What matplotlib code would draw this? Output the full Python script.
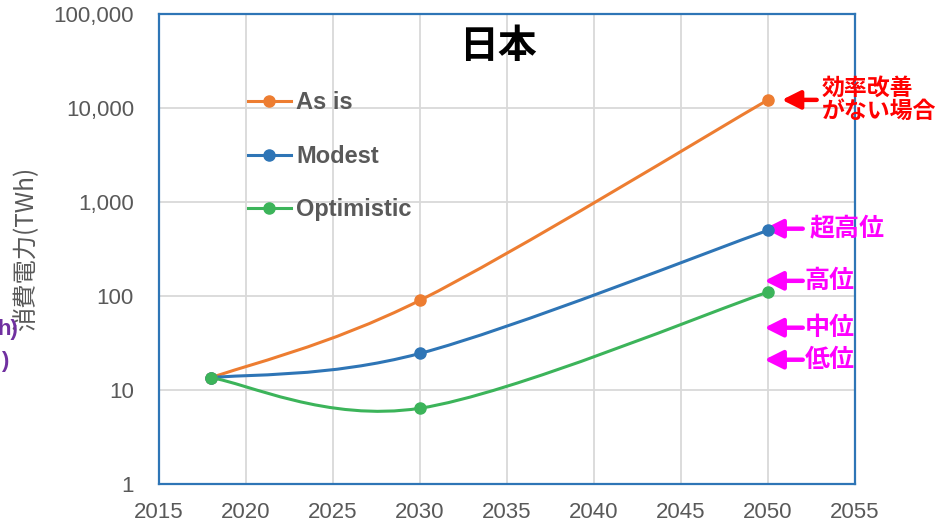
import numpy as np
import matplotlib.pyplot as plt
from matplotlib.path import Path
from matplotlib.patches import PathPatch
from matplotlib.lines import Line2D
from matplotlib.ticker import FuncFormatter, NullLocator

plt.rcParams['font.family'] = ['Liberation Sans', 'Noto Sans CJK JP', 'DejaVu Sans']
JP = ['Noto Sans CJK JP', 'DejaVu Sans']

# data
years = [2018, 2030, 2050]
as_is = [13.5, 90, 12200]
modest = [13.5, 24.5, 500]
optimistic = [13.5, 6.4, 110]

series_names = ["As is", "Modest", "Optimistic"]
series_colors = ["#ED7D31", "#2E75B6", "#3CB45A"]

# arrow labels on the right (label, value pointed at)
notes = ["超高位", "高位", "中位", "低位"]
note_vals = [520, 145, 46, 21]
red_note = "効率改善\nがない場合"
red_val = 12200


def smooth_path(xs, ys):
    # excel-like smoothed line: catmull-rom -> bezier in (x, log y)
    px = np.array(xs, float)
    py = np.log10(ys)
    n = len(px)
    verts = [(px[0], py[0])]
    codes = [Path.MOVETO]
    for i in range(n - 1):
        i0 = max(i - 1, 0)
        i3 = min(i + 2, n - 1)
        c1 = (px[i] + (px[i + 1] - px[i0]) / 6, py[i] + (py[i + 1] - py[i0]) / 6)
        c2 = (px[i + 1] - (px[i3] - px[i]) / 6, py[i + 1] - (py[i3] - py[i]) / 6)
        verts += [c1, c2, (px[i + 1], py[i + 1])]
        codes += [Path.CURVE4] * 3
    verts = [(x, 10 ** y) for x, y in verts]
    return Path(verts, codes)


fig = plt.figure(figsize=(9.39, 5.24), dpi=100)
ax = fig.add_axes([0.1693, 0.0763, 0.7412, 0.897])
ax.set_yscale('log')
ax.set_xlim(2015, 2055)
ax.set_ylim(1, 100000)
ax.set_xticks(range(2015, 2056, 5))
ax.set_yticks([1, 10, 100, 1000, 10000, 100000])
ax.yaxis.set_minor_locator(NullLocator())
ax.yaxis.set_major_formatter(FuncFormatter(lambda v, p: "{:,.0f}".format(v)))
ax.tick_params(length=0, labelsize=16, colors="#595959")
ax.tick_params(axis='y', pad=18)
ax.tick_params(axis='x', pad=13)
ax.grid(True, color="#D9D9D9", lw=1.3)
ax.set_axisbelow(True)
for s in ax.spines.values():
    s.set_color("#2E75B6")
    s.set_linewidth(1.6)

handles = []
for name, vals, col in zip(series_names, [as_is, modest, optimistic], series_colors):
    ax.add_patch(PathPatch(smooth_path(years, vals), fill=False, edgecolor=col, lw=2.2, zorder=3))
    ax.plot(years, vals, 'o', color=col, ms=8, zorder=4)
    handles.append(Line2D([], [], color=col, lw=2.2, marker='o', ms=8))

leg = ax.legend(handles, series_names, loc='upper left', bbox_to_anchor=(0.128, 0.836),
                frameon=False, borderaxespad=0, borderpad=0,
                handlelength=1.8, handletextpad=0.25, labelspacing=1.3,
                prop={'size': 17, 'weight': 'bold'})
for t in leg.get_texts():
    t.set_color("#595959")

ax.text(0.487, 0.93, "日本", transform=ax.transAxes, ha='center', va='center',
        fontsize=28, fontweight='bold', family=JP)

ax.set_ylabel("消費電力(TWh)", fontsize=17.5, color="#595959", family=JP)
ax.yaxis.set_label_coords(-0.172, 0.5)

arrow_style = '-|>,head_length=1.1,head_width=0.55'

# arrows and labels at the right
ax.annotate('', xy=(2050.8, red_val), xytext=(2052.8, red_val),
            arrowprops=dict(arrowstyle=arrow_style, lw=3.2, color='#FF0000',
                            shrinkA=0, shrinkB=0),
            annotation_clip=False)
ax.text(2053.1, red_val, red_note, color='#FF0000', fontsize=16.5, fontweight='bold',
        family=JP, va='center', ha='left', linespacing=1.0, clip_on=False)
for lab, v in zip(notes, note_vals):
    ax.annotate('', xy=(2049.8, v), xytext=(2052.0, v),
                arrowprops=dict(arrowstyle=arrow_style, lw=3.2, color='#FF00FF',
                                shrinkA=0, shrinkB=0),
                annotation_clip=False)
    xt = 2052.4 if lab == "超高位" else 2052.1
    ax.text(xt, v, lab, color='#FF00FF', fontsize=18, fontweight='bold', family=JP,
            va='center', ha='left', clip_on=False)

# cut-off text from the slide at the left edge
fig.text(18 / 939, 1 - 330 / 524, "h)", color="#7030A0", fontsize=16, fontweight='bold',
         ha='right', va='center')
fig.text(8 / 939, 1 - 362 / 524, ")", color="#7030A0", fontsize=16, fontweight='bold',
         ha='right', va='center')

fig.savefig("out.png", dpi=100)
